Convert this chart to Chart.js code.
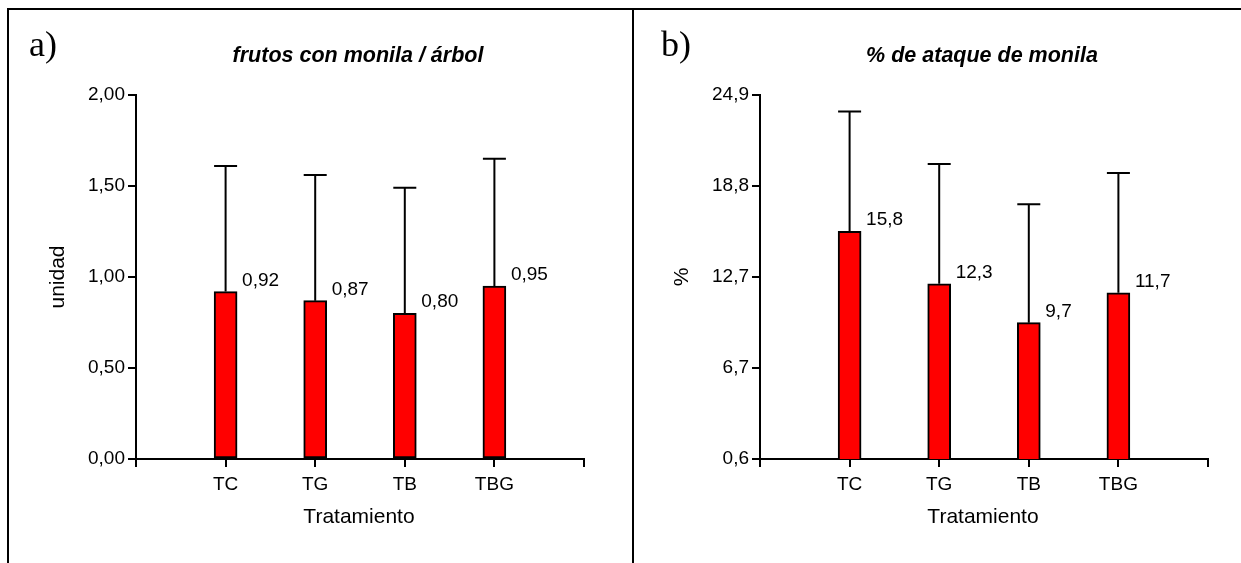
<!DOCTYPE html>
<html><head><meta charset="utf-8">
<script src="https://cdn.jsdelivr.net/npm/chart.js@4/dist/chart.umd.min.js"></script>
<style>
html,body{margin:0;padding:0;background:#fff;width:1241px;height:563px;overflow:hidden;position:relative;}
.box{position:absolute;top:0;height:563px;}
#wa{left:0;width:633px;}
#wb{left:633px;width:608px;}
.line{position:absolute;background:#000;}
</style></head><body>
<div class="box" id="wa"><canvas id="ca"></canvas></div>
<div class="box" id="wb"><canvas id="cb"></canvas></div>
<div class="line" style="left:7px;top:8px;width:1234px;height:2px"></div>
<div class="line" style="left:7px;top:8px;width:2px;height:555px"></div>
<div class="line" style="left:632px;top:8px;width:2px;height:555px"></div>
<script>
const categories = ['', 'TC', 'TG', 'TB', 'TBG', ''];
const frutosMean = [null, 0.92, 0.87, 0.80, 0.95, null];
const frutosUpper = [null, 1.61, 1.56, 1.49, 1.65, null];
const frutosTickValues = [0, 0.5, 1.0, 1.5, 2.0];
const frutosTickLabels = ['0,00', '0,50', '1,00', '1,50', '2,00'];
const ataqueMean = [null, 15.8, 12.3, 9.7, 11.7, null];
const ataqueUpper = [null, 23.8, 20.3, 17.6, 19.7, null];
const ataqueTickValues = [0.6, 6.675, 12.75, 18.825, 24.9];
const ataqueTickLabels = ['0,6', '6,7', '12,7', '18,8', '24,9'];

const SANS = "'Liberation Sans', Arial, sans-serif";
const SERIF = "'Liberation Serif', 'Times New Roman', serif";

const annot = {
  id: 'annot',
  afterDatasetsDraw(chart, args, o) {
    const ctx = chart.ctx;
    const xs = chart.scales.x, ys = chart.scales.y;
    const ca = chart.chartArea;
    ctx.save();
    ctx.strokeStyle = '#000';
    ctx.fillStyle = '#000';
    const half = 11.5;
    o.mean.forEach((m, i) => {
      if (m === null) return;
      const x = xs.getPixelForValue(i);
      const yb = ys.getPixelForValue(m);
      const yt = ys.getPixelForValue(o.upper[i]);
      ctx.lineWidth = 2;
      ctx.beginPath();
      ctx.moveTo(x, yb);
      ctx.lineTo(x, yt);
      ctx.moveTo(x - half, yt);
      ctx.lineTo(x + half, yt);
      ctx.stroke();
      ctx.font = '19px ' + SANS;
      ctx.textAlign = 'left';
      ctx.textBaseline = 'alphabetic';
      ctx.fillText(m.toFixed(o.decimals).replace('.', ','), x + half + 5, yb - 6);
    });
    // panel letter
    ctx.font = '36px ' + SERIF;
    ctx.textAlign = 'left';
    ctx.fillText(o.letter, o.letterX, 56);
    // title
    ctx.font = 'italic bold 21.5px ' + SANS;
    ctx.textAlign = 'center';
    ctx.fillText(o.title, (ca.left + ca.right) / 2 - 2, 62);
    // x title
    ctx.font = '21px ' + SANS;
    ctx.textBaseline = 'middle';
    ctx.fillText(o.xTitle, (ca.left + ca.right) / 2 - 1, 517);
    // y title
    ctx.translate(ca.left - 78, (ca.top + ca.bottom) / 2);
    ctx.rotate(-Math.PI / 2);
    ctx.fillText(o.yTitle, 0, 0);
    ctx.restore();
  }
};

function makeChart(id, cfg) {
  return new Chart(document.getElementById(id), {
    type: 'bar',
    data: {
      labels: categories,
      datasets: [{
        data: cfg.mean,
        backgroundColor: '#ff0000',
        borderColor: '#000',
        borderWidth: 2,
        borderSkipped: false,
        barThickness: 23
      }]
    },
    options: {
      responsive: true,
      maintainAspectRatio: false,
      animation: false,
      devicePixelRatio: 1,
      layout: { padding: { left: 0, right: cfg.padRight, top: 95, bottom: 563 - 459 - 40 } },
      plugins: {
        legend: { display: false },
        tooltip: { enabled: false },
        annot: cfg
      },
      scales: {
        x: {
          offset: false,
          grid: { display: true, offset: false, drawOnChartArea: false, drawTicks: true, tickLength: 8, color: '#000', lineWidth: 2 },
          border: { display: true, color: '#000', width: 2 },
          ticks: { color: '#000', font: { family: SANS, size: 19 }, padding: 6, maxRotation: 0, autoSkip: false },
          afterFit(s) { s.height = 40; }
        },
        y: {
          min: cfg.tickValues[0],
          max: cfg.tickValues[cfg.tickValues.length - 1],
          afterBuildTicks(s) { s.ticks = cfg.tickValues.map(v => ({ value: v })); },
          grid: { display: true, drawOnChartArea: false, drawTicks: true, tickLength: 8, color: '#000', lineWidth: 2 },
          border: { display: true, color: '#000', width: 2 },
          ticks: {
            color: '#000', font: { family: SANS, size: 19 }, padding: 3, autoSkip: false,
            callback: (v, i) => cfg.tickLabels[i]
          },
          afterFit(s) { s.width = cfg.axisW; }
        }
      }
    },
    plugins: [annot]
  });
}

makeChart('ca', {
  mean: frutosMean, upper: frutosUpper, decimals: 2,
  tickValues: frutosTickValues, tickLabels: frutosTickLabels,
  axisW: 136, padRight: 49,
  letter: 'a)', letterX: 29,
  title: 'frutos con monila / árbol', xTitle: 'Tratamiento', yTitle: 'unidad'
});
makeChart('cb', {
  mean: ataqueMean, upper: ataqueUpper, decimals: 1,
  tickValues: ataqueTickValues, tickLabels: ataqueTickLabels,
  axisW: 127, padRight: 33,
  letter: 'b)', letterX: 28,
  title: '% de ataque de monila', xTitle: 'Tratamiento', yTitle: '%'
});
</script>
</body></html>
